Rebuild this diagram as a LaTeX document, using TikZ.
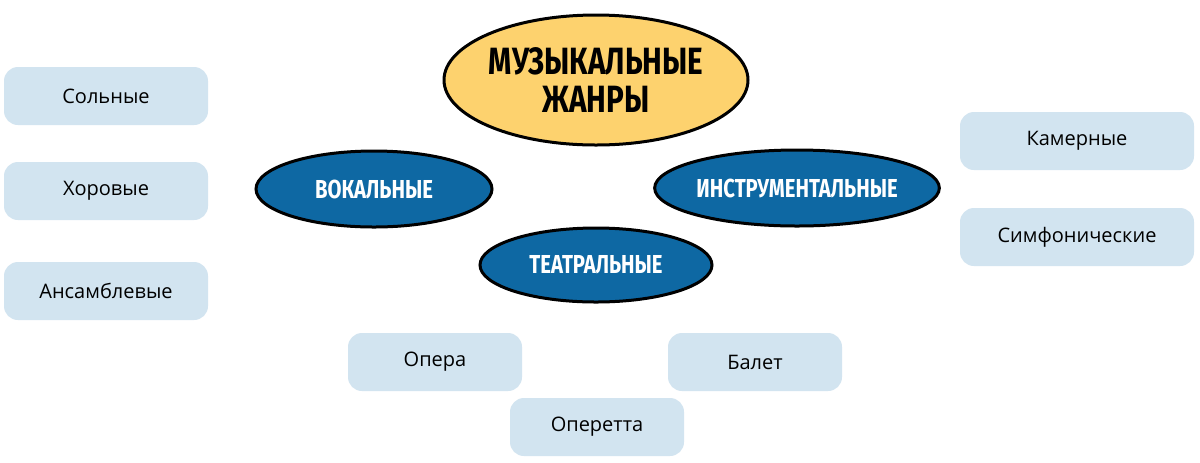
\documentclass[tikz,border=0pt]{standalone}
\usepackage{fontspec}
\setmainfont{Open Sans}
\newfontfamily\headf{Fira Sans}
\usetikzlibrary{shapes.geometric,backgrounds}
\definecolor{ylw}{HTML}{FDD26E}
\definecolor{blu}{HTML}{0E68A3}
\definecolor{lbox}{HTML}{D2E4F0}
\tikzset{
 main/.style={ellipse,draw=black,line width=1.5pt,fill=ylw,minimum width=152pt,minimum height=65pt,inner sep=0pt,align=center,font=\headf\bfseries\fontsize{19}{21}\selectfont},
 cat/.style={ellipse,draw=black,line width=1.5pt,fill=blu,text=white,minimum height=38pt,inner sep=0pt,font=\headf\bfseries\fontsize{13}{15}\selectfont},
 leaf/.style={rectangle,rounded corners=7pt,fill=lbox,minimum width=102pt,minimum height=29pt,inner sep=0pt,font=\fontsize{10}{12}\selectfont},
 conn/.style={line width=1.5pt,black}
}
\begin{document}
\begin{tikzpicture}[x=0.5pt,y=-0.5pt]
\useasboundingbox[fill=white] (0,0) rectangle (1200,462);
\node[main] (m) at (596,80) {\scalebox{0.78}[1]{МУЗЫКАЛЬНЫЕ}\\[-2pt]\scalebox{0.78}[1]{ЖАНРЫ}};
\node[cat,minimum width=118pt] (vok) at (374,189) {\scalebox{0.78}[1]{ВОКАЛЬНЫЕ}};
\node[cat,minimum width=116pt,minimum height=37pt] (teat) at (596,265) {\scalebox{0.78}[1]{ТЕАТРАЛЬНЫЕ}};
\node[cat,minimum width=133pt] (ins) at (797,188) {\scalebox{0.78}[1]{ИНСТРУМЕНТАЛЬНЫЕ}};
\node[leaf] (sol) at (106,96) {Сольные};
\node[leaf] (hor) at (106,191) {Хоровые};
\node[leaf] (ans) at (106,291) {Ансамблевые};
\node[leaf,minimum width=117pt] (kam) at (1077,141) {Камерные};
\node[leaf,minimum width=117pt] (sim) at (1077,237) {Симфонические};
\node[leaf,minimum width=87pt] (op) at (435,362) {Опера};
\node[leaf,minimum width=87pt] (bal) at (755,362) {Балет};
\node[leaf,minimum width=87pt] (opt) at (597,427) {Оперетта};
\begin{pgfonlayer}{background}
\draw[conn] (m.194) -- (vok.50);
\draw[conn] (m.-13) -- (ins.100);
\draw[conn] (m.south) -- (teat.north);
\draw[conn] (sol.east) -- (vok.160);
\draw[conn] (hor.east) -- (vok.west);
\draw[conn] (ans.east) -- (vok.200);
\draw[conn] (ins.15) -- (kam.west);
\draw[conn] (ins.-14) -- (sim.west);
\draw[conn] (teat.200) -- (op.north);
\draw[conn] (teat.-18) -- (bal.north);
\draw[conn] (teat.south) -- (opt.north);
\end{pgfonlayer}
\end{tikzpicture}
\end{document}
